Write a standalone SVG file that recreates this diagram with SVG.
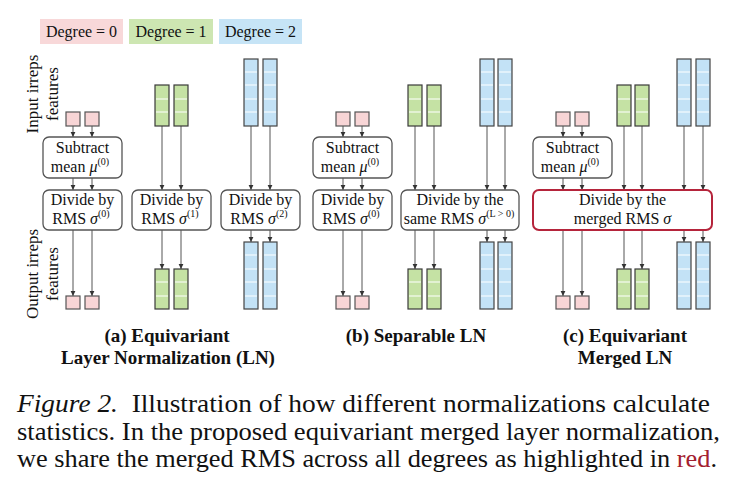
<svg xmlns="http://www.w3.org/2000/svg" width="738" height="494" viewBox="0 0 738 494">
<defs>
<marker id="ah" markerWidth="6" markerHeight="6" refX="5" refY="3" orient="auto" markerUnits="userSpaceOnUse"><path d="M0,0.6 L5,3 L0,5.4 z" fill="#333"/></marker>
<style>
text{font-family:"Liberation Serif","Times New Roman",serif;fill:#111}
.lbl{font-size:16px;text-anchor:middle}
.sup{font-size:10px}
.box{fill:#fff;stroke:#555;stroke-width:1.3}
.red{fill:#fff;stroke:#b5243b;stroke-width:2}
.p{fill:#f8d5d6;stroke:#555;stroke-width:1.2}
.g{fill:#c5e2a4;stroke:#3a3a3a;stroke-width:1.2}
.b{fill:#c3e2f6;stroke:#444;stroke-width:1.2}
.st{stroke:#fff;stroke-width:1.2}
.ar{stroke:#555;stroke-width:1;fill:none;marker-end:url(#ah)}
.cap{font-size:19px;font-weight:bold;text-anchor:middle}
.side{font-size:17px;text-anchor:middle}
.fig{font-size:25px}
</style>
</defs>
<rect width="738" height="494" fill="#fff"/>

<g id="legend">
<rect x="40" y="19" width="83" height="25" fill="#f8d8d9"/>
<text class="lbl" x="81.5" y="37">Degree = 0</text>
<rect x="129" y="19" width="84" height="25" fill="#cde6b2"/>
<text class="lbl" x="171" y="37">Degree = 1</text>
<rect x="219" y="19" width="83" height="25" fill="#c6e4f6"/>
<text class="lbl" x="260.5" y="37">Degree = 2</text>
</g>

<g id="side-labels">
<text class="side" transform="translate(37.5,94) rotate(-90)">Input irreps</text>
<text class="side" transform="translate(58,94) rotate(-90)">features</text>
<text class="side" transform="translate(37.5,274) rotate(-90)">Output irreps</text>
<text class="side" transform="translate(58,274) rotate(-90)">features</text>
</g>

<g id="connectors">
<!-- panel a -->
<line class="ar" x1="73" y1="126" x2="73" y2="137"/>
<line class="ar" x1="92" y1="126" x2="92" y2="137"/>
<line class="ar" x1="73" y1="178" x2="73" y2="190"/>
<line class="ar" x1="92" y1="178" x2="92" y2="190"/>
<line class="ar" x1="73" y1="230" x2="73" y2="296"/>
<line class="ar" x1="92" y1="230" x2="92" y2="296"/>
<line class="ar" x1="162" y1="126" x2="162" y2="190"/>
<line class="ar" x1="181" y1="126" x2="181" y2="190"/>
<line class="ar" x1="162" y1="230" x2="162" y2="269"/>
<line class="ar" x1="181" y1="230" x2="181" y2="269"/>
<line class="ar" x1="251" y1="126" x2="251" y2="190"/>
<line class="ar" x1="270" y1="126" x2="270" y2="190"/>
<line class="ar" x1="251" y1="230" x2="251" y2="242"/>
<line class="ar" x1="270" y1="230" x2="270" y2="242"/>
<!-- panel b -->
<line class="ar" x1="343" y1="126" x2="343" y2="137"/>
<line class="ar" x1="362" y1="126" x2="362" y2="137"/>
<line class="ar" x1="343" y1="178" x2="343" y2="190"/>
<line class="ar" x1="362" y1="178" x2="362" y2="190"/>
<line class="ar" x1="343" y1="230" x2="343" y2="296"/>
<line class="ar" x1="362" y1="230" x2="362" y2="296"/>
<line class="ar" x1="415" y1="126" x2="415" y2="190"/>
<line class="ar" x1="434" y1="126" x2="434" y2="190"/>
<line class="ar" x1="415" y1="230" x2="415" y2="269"/>
<line class="ar" x1="434" y1="230" x2="434" y2="269"/>
<line class="ar" x1="487" y1="126" x2="487" y2="190"/>
<line class="ar" x1="505" y1="126" x2="505" y2="190"/>
<line class="ar" x1="487" y1="230" x2="487" y2="242"/>
<line class="ar" x1="505" y1="230" x2="505" y2="242"/>
<!-- panel c -->
<line class="ar" x1="563" y1="126" x2="563" y2="137"/>
<line class="ar" x1="582" y1="126" x2="582" y2="137"/>
<line class="ar" x1="563" y1="178" x2="563" y2="190"/>
<line class="ar" x1="582" y1="178" x2="582" y2="190"/>
<line class="ar" x1="563" y1="230" x2="563" y2="296"/>
<line class="ar" x1="582" y1="230" x2="582" y2="296"/>
<line class="ar" x1="624" y1="126" x2="624" y2="190"/>
<line class="ar" x1="642" y1="126" x2="642" y2="190"/>
<line class="ar" x1="624" y1="230" x2="624" y2="269"/>
<line class="ar" x1="642" y1="230" x2="642" y2="269"/>
<line class="ar" x1="684" y1="126" x2="684" y2="190"/>
<line class="ar" x1="703" y1="126" x2="703" y2="190"/>
<line class="ar" x1="684" y1="230" x2="684" y2="242"/>
<line class="ar" x1="703" y1="230" x2="703" y2="242"/>
</g>

<!-- ===== Panel (a) ===== -->
<g id="a-in0"><rect class="p" x="66" y="112" width="14" height="14"/><rect class="p" x="85" y="112" width="14" height="14"/></g>
<g id="a-in1">
<rect class="g" x="155" y="85" width="14" height="41"/><rect class="g" x="174" y="85" width="14" height="41"/>
<path class="st" d="M156,99H168M156,112H168M175,99H187M175,112H187"/>
</g>
<g id="a-in2">
<rect class="b" x="244" y="59" width="14" height="67"/><rect class="b" x="263" y="59" width="14" height="67"/>
<path class="st" d="M245,72H257M245,85H257M245,99H257M245,112H257M264,72H276M264,85H276M264,99H276M264,112H276"/>
</g>
<g id="a-sub">
<rect class="box" x="43" y="137" width="79" height="41" rx="6"/>
<text class="lbl" x="82.5" y="153">Subtract</text>
<text class="lbl" x="80" y="172">mean <tspan font-style="italic">μ</tspan><tspan class="sup" dy="-7">(0)</tspan></text>
</g>
<g id="a-div0">
<rect class="box" x="43" y="190" width="79" height="40" rx="6"/>
<text class="lbl" x="82.5" y="205">Divide by</text>
<text class="lbl" x="81" y="224">RMS <tspan font-style="italic">σ</tspan><tspan class="sup" dy="-7">(0)</tspan></text>
</g>
<g id="a-div1">
<rect class="box" x="132" y="190" width="79" height="40" rx="6"/>
<text class="lbl" x="171.5" y="205">Divide by</text>
<text class="lbl" x="170" y="224">RMS <tspan font-style="italic">σ</tspan><tspan class="sup" dy="-7">(1)</tspan></text>
</g>
<g id="a-div2">
<rect class="box" x="221" y="190" width="79" height="40" rx="6"/>
<text class="lbl" x="260.5" y="205">Divide by</text>
<text class="lbl" x="259" y="224">RMS <tspan font-style="italic">σ</tspan><tspan class="sup" dy="-7">(2)</tspan></text>
</g>
<g id="a-out0"><rect class="p" x="66" y="296" width="14" height="13"/><rect class="p" x="85" y="296" width="14" height="13"/></g>
<g id="a-out1">
<rect class="g" x="155" y="269" width="14" height="40"/><rect class="g" x="174" y="269" width="14" height="40"/>
<path class="st" d="M156,282H168M156,296H168M175,282H187M175,296H187"/>
</g>
<g id="a-out2">
<rect class="b" x="244" y="242" width="14" height="67"/><rect class="b" x="263" y="242" width="14" height="67"/>
<path class="st" d="M245,255H257M245,269H257M245,282H257M245,296H257M264,255H276M264,269H276M264,282H276M264,296H276"/>
</g>
<g id="a-caption">
<text class="cap" x="167" y="342">(a) Equivariant</text>
<text class="cap" x="168" y="364">Layer Normalization (LN)</text>
</g>

<!-- ===== Panel (b) ===== -->
<g id="b-in0"><rect class="p" x="336" y="112" width="14" height="14"/><rect class="p" x="355" y="112" width="14" height="14"/></g>
<g id="b-in1">
<rect class="g" x="408" y="85" width="14" height="41"/><rect class="g" x="427" y="85" width="14" height="41"/>
<path class="st" d="M409,99H421M409,112H421M428,99H440M428,112H440"/>
</g>
<g id="b-in2">
<rect class="b" x="480" y="59" width="14" height="67"/><rect class="b" x="498" y="59" width="14" height="67"/>
<path class="st" d="M481,72H493M481,85H493M481,99H493M481,112H493M499,72H511M499,85H511M499,99H511M499,112H511"/>
</g>
<g id="b-sub">
<rect class="box" x="313" y="137" width="79" height="41" rx="6"/>
<text class="lbl" x="352.5" y="153">Subtract</text>
<text class="lbl" x="350" y="172">mean <tspan font-style="italic">μ</tspan><tspan class="sup" dy="-7">(0)</tspan></text>
</g>
<g id="b-div0">
<rect class="box" x="313" y="190" width="79" height="40" rx="6"/>
<text class="lbl" x="352.5" y="205">Divide by</text>
<text class="lbl" x="351" y="224">RMS <tspan font-style="italic">σ</tspan><tspan class="sup" dy="-7">(0)</tspan></text>
</g>
<g id="b-div1">
<rect class="box" x="401" y="190" width="118" height="40" rx="6"/>
<text class="lbl" x="460" y="205">Divide by the</text>
<text class="lbl" x="459" y="224">same RMS <tspan font-style="italic">σ</tspan><tspan class="sup" dy="-7">(L &gt; 0)</tspan></text>
</g>
<g id="b-out0"><rect class="p" x="336" y="296" width="14" height="13"/><rect class="p" x="355" y="296" width="14" height="13"/></g>
<g id="b-out1">
<rect class="g" x="408" y="269" width="14" height="40"/><rect class="g" x="427" y="269" width="14" height="40"/>
<path class="st" d="M409,282H421M409,296H421M428,282H440M428,296H440"/>
</g>
<g id="b-out2">
<rect class="b" x="480" y="242" width="14" height="67"/><rect class="b" x="498" y="242" width="14" height="67"/>
<path class="st" d="M481,255H493M481,269H493M481,282H493M481,296H493M499,255H511M499,269H511M499,282H511M499,296H511"/>
</g>
<g id="b-caption">
<text class="cap" x="416" y="342">(b) Separable LN</text>
</g>

<!-- ===== Panel (c) ===== -->
<g id="c-in0"><rect class="p" x="556" y="112" width="14" height="14"/><rect class="p" x="575" y="112" width="14" height="14"/></g>
<g id="c-in1">
<rect class="g" x="617" y="85" width="14" height="41"/><rect class="g" x="635" y="85" width="14" height="41"/>
<path class="st" d="M618,99H630M618,112H630M636,99H648M636,112H648"/>
</g>
<g id="c-in2">
<rect class="b" x="677" y="59" width="14" height="67"/><rect class="b" x="696" y="59" width="14" height="67"/>
<path class="st" d="M678,72H690M678,85H690M678,99H690M678,112H690M697,72H709M697,85H709M697,99H709M697,112H709"/>
</g>
<g id="c-sub">
<rect class="box" x="533" y="137" width="79" height="41" rx="6"/>
<text class="lbl" x="572.5" y="153">Subtract</text>
<text class="lbl" x="570" y="172">mean <tspan font-style="italic">μ</tspan><tspan class="sup" dy="-7">(0)</tspan></text>
</g>
<g id="c-div">
<rect class="red" x="533" y="190" width="179" height="40" rx="6"/>
<text class="lbl" x="622.5" y="205">Divide by the</text>
<text class="lbl" x="622.5" y="224">merged RMS <tspan font-style="italic">σ</tspan></text>
</g>
<g id="c-out0"><rect class="p" x="556" y="296" width="14" height="13"/><rect class="p" x="575" y="296" width="14" height="13"/></g>
<g id="c-out1">
<rect class="g" x="617" y="269" width="14" height="40"/><rect class="g" x="635" y="269" width="14" height="40"/>
<path class="st" d="M618,282H630M618,296H630M636,282H648M636,296H648"/>
</g>
<g id="c-out2">
<rect class="b" x="677" y="242" width="14" height="67"/><rect class="b" x="696" y="242" width="14" height="67"/>
<path class="st" d="M678,255H690M678,269H690M678,282H690M678,296H690M697,255H709M697,269H709M697,282H709M697,296H709"/>
</g>
<g id="c-caption">
<text class="cap" x="625" y="342">(c) Equivariant</text>
<text class="cap" x="625" y="364">Merged LN</text>
</g>

<g id="figure-caption">
<text class="fig" x="17" y="412" textLength="693" lengthAdjust="spacingAndGlyphs"><tspan font-style="italic">Figure 2.</tspan>&#160; Illustration of how different normalizations calculate</text>
<text class="fig" x="17" y="440" textLength="703" lengthAdjust="spacingAndGlyphs">statistics. In the proposed equivariant merged layer normalization,</text>
<text class="fig" x="17" y="467" textLength="700" lengthAdjust="spacingAndGlyphs">we share the merged RMS across all degrees as highlighted in <tspan fill="#a3202f">red</tspan>.</text>
</g>
</svg>
